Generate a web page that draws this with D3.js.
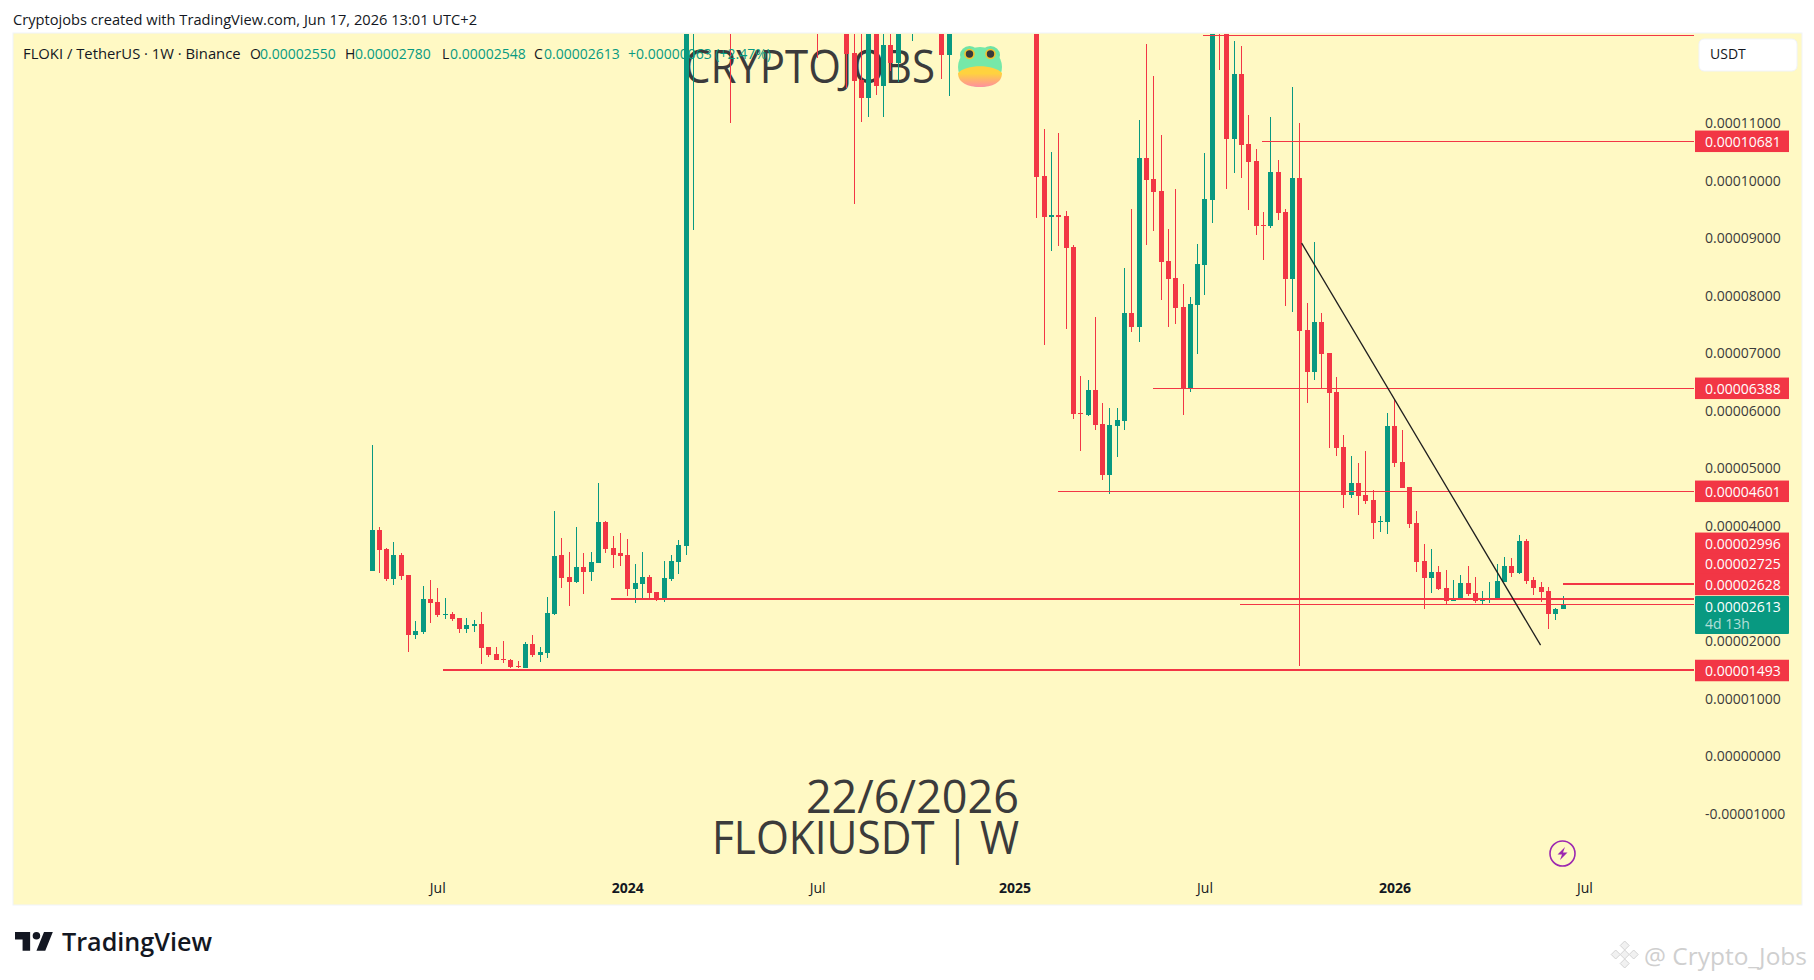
<!DOCTYPE html>
<html>
<head>
<meta charset="utf-8">
<script src="https://cdnjs.cloudflare.com/ajax/libs/d3/7.8.5/d3.min.js"></script>
<style>
  html, body { margin: 0; padding: 0; background: #fff; }
  svg { display: block; }
  text { font-family: "Open Sans", sans-serif; }
</style>
</head>
<body>
<svg id="chart" width="1814" height="980"></svg>
<script>
// prices are in units of 0.00001 USDT, one entry per weekly candle
var opens = [
  3.21,3.92,3.59,3.07,3.49,3.14,2.10,2.15,2.72,2.67,2.44,2.46,2.39,2.20,2.25,2.29,1.89,1.77,1.68,1.66,
  1.56,1.52,1.94,1.75,1.78,2.46,3.49,3.10,3.02,3.28,3.19,3.35,4.06,3.61,3.52,3.49,2.90,2.98,3.10,2.84,
  2.71,3.07,3.37,3.64,20.0,22.0,20.0,17.5,19.0,17.0,16.0,15.0,16.5,18.5,22.0,26.0,24.0,28.0,25.0,22.0,
  19.0,17.0,15.0,14.5,14.0,13.0,12.22,11.75,11.43,13.5,11.64,12.36,12.04,13.4,14.0,14.5,14.0,15.0,14.5,12.18,
  15.0,17.0,20.0,25.0,28.0,26.0,24.0,21.0,19.0,17.0,15.0,14.0,10.08,9.37,9.40,9.38,8.84,5.96,5.92,6.36,
  5.77,4.88,5.73,5.82,7.70,7.45,10.39,10.03,9.82,8.60,8.30,7.80,6.39,7.84,8.53,9.66,15.0,14.2,10.72,11.85,
  10.63,10.34,9.23,9.21,10.15,9.45,8.29,10.04,7.40,6.67,7.54,7.00,6.32,5.37,4.53,4.74,4.53,4.44,4.06,4.06,
  5.73,5.10,4.67,4.04,3.38,3.09,3.19,2.91,2.69,2.72,3.00,2.83,2.69,2.72,2.72,3.02,3.30,3.17,3.73,3.05,
  2.93,2.86,2.46,2.55
];
var highs = [
  5.40,3.97,3.61,3.71,3.52,3.14,2.34,2.95,3.05,2.91,2.74,2.50,2.39,2.39,2.36,2.50,1.89,1.89,1.99,1.68,
  1.64,1.97,2.10,1.89,2.76,4.25,3.78,3.54,3.97,3.52,3.54,4.74,4.08,3.82,3.87,3.77,3.33,3.54,3.14,2.84,
  3.38,3.49,3.75,21.0,25.0,30.0,23.0,19.5,21.0,19.0,18.0,17.5,19.5,23.0,27.0,31.0,29.0,34.0,30.0,26.0,
  22.0,19.0,17.0,16.0,15.5,14.5,13.5,13.0,14.5,14.0,13.5,13.2,14.0,15.0,16.0,16.5,16.0,16.5,16.0,15.2,
  18.0,21.0,26.0,29.0,30.0,28.0,25.0,22.0,20.0,18.0,15.5,15.5,10.89,10.50,10.83,9.47,8.88,6.60,6.53,7.63,
  6.13,6.04,6.04,8.48,9.50,11.05,12.37,11.82,10.79,9.16,9.85,8.20,7.97,8.90,10.48,15.0,17.0,14.8,12.42,12.34,
  11.14,10.55,9.45,11.10,10.36,9.50,11.63,11.00,7.87,8.93,7.70,7.00,6.58,5.57,5.21,5.09,5.30,4.62,4.17,5.96,
  6.20,5.66,4.67,4.25,3.68,3.59,3.30,3.23,3.05,3.14,3.30,3.10,2.86,3.02,3.33,3.45,3.44,3.84,3.77,3.10,
  3.02,2.93,2.57,2.78
];
var lows = [
  3.21,3.17,3.04,2.97,3.05,1.80,2.03,2.11,2.30,2.41,2.37,2.34,2.13,2.13,2.15,1.59,1.71,1.66,1.61,1.52,
  1.52,1.52,1.71,1.63,1.70,2.44,2.91,2.60,3.00,2.81,3.04,3.35,3.52,3.26,3.30,2.78,2.65,2.74,2.74,2.69,
  2.67,3.04,3.16,3.49,9.14,17.0,16.0,15.0,16.0,11.00,14.0,13.5,15.0,16.0,20.0,22.0,21.0,23.0,21.0,18.0,
  16.5,12.13,13.5,13.0,12.8,11.61,9.59,11.02,11.10,11.49,11.10,11.90,11.71,13.0,12.42,13.5,13.2,12.55,11.76,11.47,
  13.5,15.0,18.0,22.0,24.0,22.0,20.0,18.0,16.0,14.5,13.5,9.35,7.14,8.78,8.86,7.42,5.85,5.30,5.90,5.66,
  4.79,4.55,5.19,5.66,7.37,7.19,8.88,9.12,7.92,7.45,7.50,5.92,6.32,6.98,8.01,9.26,11.92,9.85,10.13,10.04,
  9.49,9.05,8.62,9.17,9.31,7.82,7.71,1.56,6.13,6.53,6.39,5.35,5.21,4.30,4.48,4.18,4.37,3.77,3.89,3.85,
  5.02,4.65,3.96,3.19,2.55,2.83,2.88,2.64,2.69,2.72,2.78,2.65,2.62,2.65,2.72,3.02,3.10,3.16,2.98,2.79,
  2.67,2.20,2.36,2.548
];
var closes = [
  3.92,3.57,3.07,3.49,3.12,2.10,2.17,2.72,2.65,2.44,2.46,2.37,2.20,2.27,2.29,1.87,1.75,1.66,1.66,1.54,
  1.54,1.94,1.75,1.80,2.48,3.47,3.09,3.02,3.28,3.19,3.37,4.06,3.59,3.49,3.47,2.90,3.00,3.10,2.83,2.72,
  3.09,3.38,3.66,20.0,22.0,20.0,17.5,19.0,17.0,16.0,15.0,16.5,18.5,22.0,26.0,24.0,28.0,25.0,22.0,19.0,
  17.0,15.0,14.5,14.0,13.0,12.2,11.73,11.43,13.5,11.64,12.36,12.04,13.4,14.0,14.5,14.0,15.0,14.5,12.18,15.0,
  17.0,20.0,25.0,28.0,26.0,24.0,21.0,19.0,17.0,15.0,14.0,10.06,9.37,9.40,9.37,8.83,5.94,5.94,6.36,5.75,
  4.88,5.75,5.84,7.70,7.45,10.39,10.01,9.80,8.58,8.29,7.78,6.39,7.85,8.55,9.68,14.0,14.2,10.72,11.85,10.62,
  10.32,9.21,9.21,10.15,9.43,8.29,10.04,7.38,6.67,7.54,6.98,6.30,5.35,4.53,4.74,4.51,4.43,4.04,4.08,5.73,
  5.09,4.65,4.03,3.37,3.09,3.19,2.90,2.69,2.74,3.00,2.81,2.69,2.71,2.74,3.04,3.30,3.17,3.73,3.04,2.91,
  2.84,2.46,2.55,2.613
];

// first candle of the listing sits at index 0, week of 1 May 2023
var timeTickIdx = [9, 35, 61, 88, 114, 140, 166];
var timeTickLabels = ['Jul', '2024', 'Jul', '2025', 'Jul', '2026', 'Jul'];
var priceTicks = [11, 10, 9, 8, 7, 6, 5, 4, 2, 1, 0, -1];

var levelValues = [12.529, 10.681, 6.388, 4.601, 2.996, 2.725, 2.628, 1.493];
var levelStarts = [113.8, 121.9, 106.9, 93.9, 163, 32.8, 118.9, 9.8];
var levelWeights = [1, 1, 1, 1, 2, 2, 1, 2];

var trendIdx = [127.3, 160];
var trendPrice = [8.91, 1.92];

var legendParts = [
  ['O', 250, '#131722'], ['0.00002550', 260, '#089981'],
  ['H', 345, '#131722'], ['0.00002780', 355, '#089981'],
  ['L', 442, '#131722'], ['0.00002548', 450, '#089981'],
  ['C', 534, '#131722'], ['0.00002613', 544, '#089981'],
  ['+0.00000063 (+2.47%)', 628, '#089981']
];

var UP = '#089981', DOWN = '#F23645', BG = '#FFF9C4', INK = '#3b3b3b';

var svg = d3.select('#chart');
var panel = { left: 14, top: 34, right: 1801, bottom: 904 };
var plotRight = 1694;

var x = d3.scaleLinear().domain([0, 163]).range([371.5, 1562.5]);
var y = d3.scaleLinear().domain([10.681, 1.493]).range([141.3, 669.7]);
var fmt = function(v) {
  return (v < 0 ? '-' : '') + (Math.abs(v) / 100000).toFixed(8);
};

svg.append('rect').attr('width', 1814).attr('height', 980).attr('fill', '#fff');
svg.append('rect')
  .attr('x', panel.left - 1).attr('y', panel.top - 1)
  .attr('width', panel.right - panel.left + 2).attr('height', panel.bottom - panel.top + 2)
  .attr('fill', BG).attr('stroke', '#f0f3fa').attr('stroke-width', 1);

svg.append('defs').append('clipPath').attr('id', 'plot-clip').append('rect')
  .attr('x', panel.left).attr('y', panel.top)
  .attr('width', plotRight - panel.left).attr('height', panel.bottom - panel.top);

svg.append('text').attr('x', 13).attr('y', 25)
  .attr('font-size', 14.65).attr('fill', '#131722')
  .text('Cryptojobs created with TradingView.com, Jun 17, 2026 13:01 UTC+2');

// watermark goes under the candles
svg.append('text').attr('x', 684).attr('y', 83)
  .attr('font-size', 45).attr('fill', INK)
  .attr('textLength', 251).attr('lengthAdjust', 'spacingAndGlyphs')
  .text('CRYPTOJOBS');
svg.append('text').attr('x', 1019).attr('y', 813).attr('text-anchor', 'end')
  .attr('font-size', 45).attr('fill', INK)
  .text('22/6/2026');
svg.append('text').attr('x', 712).attr('y', 854)
  .attr('font-size', 45).attr('fill', INK)
  .attr('textLength', 307).attr('lengthAdjust', 'spacingAndGlyphs')
  .text('FLOKIUSDT | W');

// frog
var frog = svg.append('g').attr('transform', 'translate(980,67)');
var belly = svg.select('defs').append('linearGradient').attr('id', 'belly')
  .attr('x1', 0).attr('y1', 0).attr('x2', 0).attr('y2', 1);
belly.append('stop').attr('offset', '35%').attr('stop-color', '#FFD23F');
belly.append('stop').attr('offset', '100%').attr('stop-color', '#FF8FA0');
frog.append('ellipse').attr('cx', -10.5).attr('cy', -12).attr('rx', 9.5).attr('ry', 9).attr('fill', '#6FE3A5');
frog.append('ellipse').attr('cx', 10.5).attr('cy', -12).attr('rx', 9.5).attr('ry', 9).attr('fill', '#6FE3A5');
frog.append('ellipse').attr('cx', 0).attr('cy', 0).attr('rx', 22).attr('ry', 20).attr('fill', '#76E8A8');
frog.append('path').attr('d', 'M-22,6 C-14,-3 14,-3 22,6 C22,16 12,20 0,20 C-12,20 -22,16 -22,6 Z').attr('fill', 'url(#belly)');
[-10.5, 10.5].forEach(function(ex) {
  frog.append('circle').attr('cx', ex).attr('cy', -13).attr('r', 5.3).attr('fill', '#F2C230');
  frog.append('circle').attr('cx', ex).attr('cy', -13).attr('r', 3.7).attr('fill', '#3a3a3a');
});

var plot = svg.append('g').attr('clip-path', 'url(#plot-clip)');

var idx = d3.range(opens.length);
var color = function(i) { return closes[i] >= opens[i] ? UP : DOWN; };

plot.selectAll('rect.wick').data(idx).enter().append('rect')
  .attr('class', 'wick')
  .attr('x', function(i) { return Math.round(x(i)); })
  .attr('y', function(i) { return Math.round(y(highs[i])); })
  .attr('width', 1)
  .attr('height', function(i) { return Math.max(1, Math.round(y(lows[i])) - Math.round(y(highs[i]))); })
  .attr('fill', color);

plot.selectAll('rect.body').data(idx).enter().append('rect')
  .attr('class', 'body')
  .attr('x', function(i) { return Math.round(x(i)) - 2; })
  .attr('y', function(i) { return Math.round(y(Math.max(opens[i], closes[i]))); })
  .attr('width', 5)
  .attr('height', function(i) {
    return Math.max(1, Math.round(y(Math.min(opens[i], closes[i]))) - Math.round(y(Math.max(opens[i], closes[i]))));
  })
  .attr('fill', color);

plot.selectAll('line.level').data(levelValues).enter().append('line')
  .attr('class', 'level')
  .attr('x1', function(d, i) { return x(levelStarts[i]); })
  .attr('x2', plotRight)
  .attr('y1', function(d) { return y(d) + 0.5; })
  .attr('y2', function(d) { return y(d) + 0.5; })
  .attr('stroke', DOWN)
  .attr('shape-rendering', 'crispEdges')
  .attr('stroke-width', function(d, i) { return levelWeights[i]; });

plot.append('line')
  .attr('x1', x(trendIdx[0])).attr('y1', y(trendPrice[0]))
  .attr('x2', x(trendIdx[1])).attr('y2', y(trendPrice[1]))
  .attr('stroke', '#1e1e1e').attr('stroke-width', 1.3);

// legend line
svg.append('text').attr('x', 23).attr('y', 59)
  .attr('font-size', 14.8).attr('fill', '#131722')
  .text('FLOKI / TetherUS · 1W · Binance');
svg.selectAll('text.legend').data(legendParts).enter().append('text')
  .attr('class', 'legend')
  .attr('x', function(d) { return d[1]; })
  .attr('y', 59)
  .attr('font-size', 14)
  .attr('fill', function(d) { return d[2]; })
  .text(function(d) { return d[0]; });

// price axis
var priceAxis = d3.axisRight(y).tickValues(priceTicks).tickFormat(fmt).tickSize(0).tickPadding(0);
var priceG = svg.append('g').attr('transform', 'translate(1705,0.5)').call(priceAxis);
priceG.select('.domain').remove();
priceG.selectAll('text').attr('font-size', 14).attr('font-family', '"Open Sans", sans-serif').attr('fill', '#3b3b3b');

svg.append('rect').attr('x', 1699).attr('y', 39).attr('width', 98).attr('height', 32).attr('rx', 5)
  .attr('fill', '#fff').attr('stroke', '#f0f3fa');
svg.append('text').attr('x', 1710).attr('y', 59).attr('font-size', 14).attr('fill', '#131722').text('USDT');

// price labels, the crowded ones are pushed apart like the platform does
var tagValues = [10.681, 6.388, 4.601, 2.996, 2.725, 2.628, 1.493];
var tagCentres = [141.3, 388.3, 491.3, 543.3, 563.8, 584.5, 670.5];
var tags = svg.selectAll('g.tag').data(tagValues).enter().append('g').attr('class', 'tag');
tags.append('rect')
  .attr('x', 1695).attr('width', 94).attr('height', 21.5)
  .attr('y', function(d, i) { return tagCentres[i] - 10.75; })
  .attr('fill', DOWN);
tags.append('text')
  .attr('x', 1705).attr('y', function(d, i) { return tagCentres[i] + 5.5; })
  .attr('font-size', 14).attr('fill', '#fff')
  .text(fmt);

svg.append('rect').attr('x', 1695).attr('y', 596).attr('width', 94).attr('height', 38).attr('rx', 1).attr('fill', UP);
svg.append('text').attr('x', 1705).attr('y', 612).attr('font-size', 14).attr('fill', '#fff')
  .text(fmt(closes[closes.length - 1]));
svg.append('text').attr('x', 1705).attr('y', 629).attr('font-size', 14).attr('fill', '#fff').attr('fill-opacity', 0.7)
  .text('4d 13h');

// time axis
var timeAxis = d3.axisBottom(x).tickValues(timeTickIdx)
  .tickFormat(function(d, i) { return timeTickLabels[i]; })
  .tickSize(0).tickPadding(0);
var timeG = svg.append('g').attr('transform', 'translate(0,883.5)').call(timeAxis);
timeG.select('.domain').remove();
timeG.selectAll('text')
  .attr('font-size', 14)
  .attr('font-family', '"Open Sans", sans-serif')
  .attr('fill', '#131722')
  .attr('font-weight', function(d, i) { return timeTickLabels[i] === 'Jul' ? 400 : 700; });

// lightning marker
var mark = svg.append('g').attr('transform', 'translate(1562.5,853.5)');
mark.append('circle').attr('r', 12.5).attr('fill', 'none').attr('stroke', '#9C27B0').attr('stroke-width', 1.6);
mark.append('path').attr('d', 'M2.5,-6.5 L-5,1 L-0.5,1 L-2.5,6.5 L5,-1 L0.5,-1 Z').attr('fill', '#9C27B0');

// footer
var logo = svg.append('g').attr('transform', 'translate(12.5,924.4) scale(1.26)');
logo.append('path').attr('fill', '#131722')
  .attr('d', 'M14 6H2v6h6v9h6V6Zm12 15h-7l6-15h7l-6 15Zm-7-9a3 3 0 1 0 0-6 3 3 0 0 0 0 6Z');
svg.append('text').attr('x', 62).attr('y', 951)
  .attr('font-family', 'Inter, sans-serif').attr('font-size', 25).attr('font-weight', 600).attr('fill', '#131722')
  .attr('textLength', 150).attr('lengthAdjust', 'spacingAndGlyphs')
  .text('TradingView');

svg.append('text').attr('x', 1644).attr('y', 965)
  .attr('font-size', 24.5).attr('fill', '#cfcfcf')
  .attr('textLength', 163).attr('lengthAdjust', 'spacingAndGlyphs')
  .text('@ Crypto_Jobs');
var diamond = svg.append('g').attr('transform', 'translate(1624.7,954.5)')
  .attr('fill', '#f1f1f1').attr('stroke', '#d4d4d4').attr('stroke-width', 1);
[[0, 0], [0, -9], [9, 0], [0, 9], [-9, 0]].forEach(function(c) {
  diamond.append('path').attr('transform', 'translate(' + c[0] + ',' + c[1] + ')').attr('d', 'M0,-4.5 L4.5,0 L0,4.5 L-4.5,0 Z');
});
</script>
</body>
</html>
